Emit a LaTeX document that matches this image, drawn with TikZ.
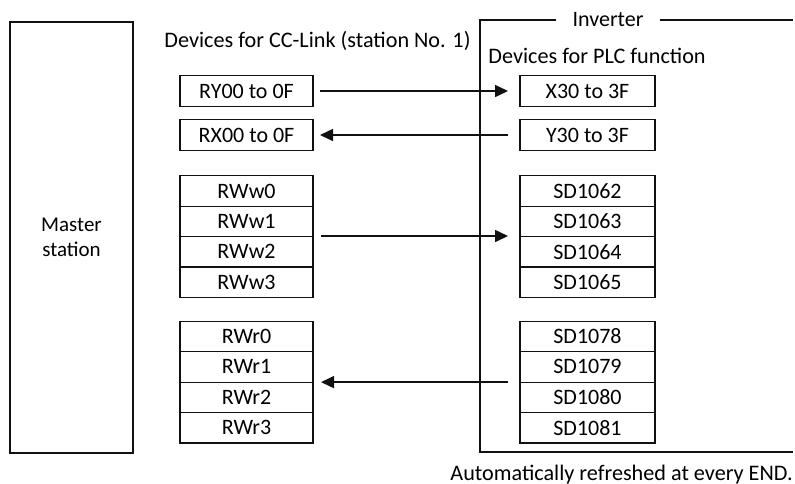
\documentclass[tikz,border=0pt]{standalone}
\usepackage{fontspec}
\setmainfont{Carlito}
\usetikzlibrary{arrows.meta,positioning}
\definecolor{invink}{HTML}{111111}
\tikzset{
  cell/.style={draw=invink, line width=0.6pt, minimum width=66.5pt, minimum height=15.2pt, inner sep=0pt, outer sep=0pt, font=\fontsize{11}{13}\selectfont},
  wcell/.style={cell, minimum width=67.5pt},
  head/.style={inner sep=0pt, font=\fontsize{11.1}{13}\selectfont},
  arr/.style={-{Triangle[length=6.5pt,width=6pt]}, line width=0.8pt, draw=invink},
}
\begin{document}
\begin{tikzpicture}[x=0.5pt,y=-0.5pt]
  \useasboundingbox (0,0) rectangle (795,483);
  % master side
  \node[draw=invink, line width=0.6pt, minimum width=61.5pt, minimum height=215.5pt, align=center, font=\fontsize{10.5}{12.5}\selectfont] (master) at (71.5,237.5) {Master\\station};
  \node[head, anchor=base west] (cclink) at (164,47) {Devices for CC-Link (station No. 1)};
  % inverter frame
  \node[head, inner xsep=8pt, font=\fontsize{11}{13}\selectfont] (inv) at (608,20) {Inverter};
  \draw[invink, line width=0.6pt] (inv.west) -| (480,452) -- (793,452);
  \draw[invink, line width=0.6pt] (inv.east) -- (793,20);
  \node[head, anchor=base west] (plc) at (488,63) {Devices for PLC function};
  % bit devices
  \node[cell] (ry) at (246.5,91) {RY00 to 0F};
  \node[cell] (rx) at (246.5,135) {RX00 to 0F};
  \node[wcell] (x30) at (587.5,91) {X30 to 3F};
  \node[wcell] (y30) at (587.5,135) {Y30 to 3F};
  % word devices
  \node[cell] (rww0) at (246.5,191) {RWw0};
  \foreach \i [remember=\i as \j (initially 0)] in {1,2,3}
    \node[cell, below=0pt of rww\j] (rww\i) {RWw\i};
  \node[wcell] (sdw0) at (587.5,191) {SD1062};
  \foreach \i/\n [remember=\i as \j (initially 0)] in {1/1063,2/1064,3/1065}
    \node[wcell, below=0pt of sdw\j] (sdw\i) {SD\n};
  \node[cell] (rwr0) at (246.5,336.5) {RWr0};
  \foreach \i [remember=\i as \j (initially 0)] in {1,2,3}
    \node[cell, below=0pt of rwr\j] (rwr\i) {RWr\i};
  \node[wcell] (sdr0) at (587.5,336.5) {SD1078};
  \foreach \i/\n [remember=\i as \j (initially 0)] in {1/1079,2/1080,3/1081}
    \node[wcell, below=0pt of sdr\j] (sdr\i) {SD\n};
  % refresh arrows
  \draw[arr] ([xshift=3.5pt]ry.east) -- ([xshift=-6pt]x30.west);
  \draw[arr] ([xshift=-6pt]y30.west) -- ([xshift=3.5pt]rx.east);
  \draw[arr] ([xshift=4pt,yshift=0.3pt]rww1.south east) -- ([xshift=-6pt,yshift=0.3pt]sdw1.south west);
  \draw[arr] ([xshift=-6pt]sdr1.south west) -- ([xshift=4pt]rwr1.south east);
  \node[head, anchor=base east] (note) at (793,480) {Automatically refreshed at every END.};
\end{tikzpicture}
\end{document}
